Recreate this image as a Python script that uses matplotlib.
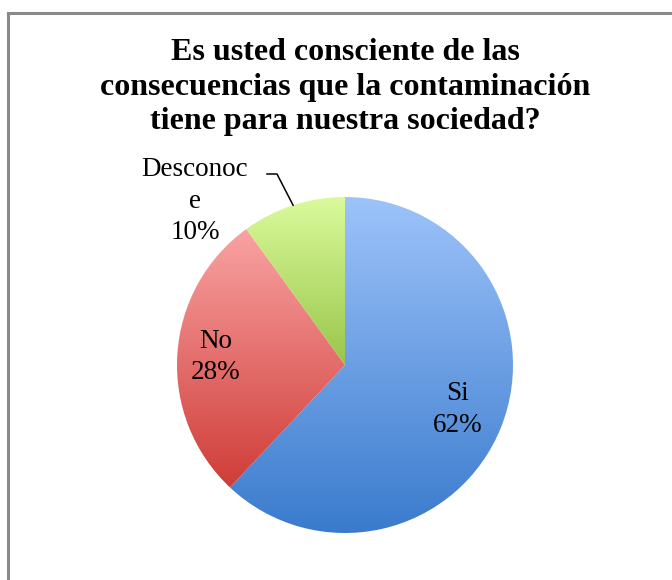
import numpy as np
import matplotlib; matplotlib.use("Agg")
import matplotlib.pyplot as plt
from matplotlib.colors import LinearSegmentedColormap

# ---- data ----
TITLE = "Es usted consciente de las\nconsecuencias que la contaminación\ntiene para nuestra sociedad?"
labels = ["Si", "No", "Desconoce"]
shown = ["Si", "No", "Desconoc\ne"]
values = [62, 28, 10]
# gradient (top, bottom) per slice
tops = ["#9dc3fa", "#f9a3a3", "#dbfa9c"]
bots = ["#3a7bcd", "#cf3d38", "#98c64a"]

W, H, DPI = 672, 580, 100
fig = plt.figure(figsize=(W / DPI, H / DPI), dpi=DPI)
FONT = ["Liberation Serif", "DejaVu Serif"]

# frame (only top/left visible in the crop)
fig.add_artist(plt.Line2D([8 / W, 1], [1 - 13 / H, 1 - 13 / H], color="#8a8a8a", lw=2.2))
fig.add_artist(plt.Line2D([8 / W, 8 / W], [0, 1 - 13 / H], color="#8a8a8a", lw=2.2))

fig.text(345 / W, 1 - 38 / H, TITLE, ha="center", va="top", fontsize=23,
         fontweight="bold", family=FONT, linespacing=1.26)

# pie axes: centre (345,365) px, radius 168 px
R = 168; half = 200
ax = fig.add_axes([(345 - half) / W, (H - 365 - half) / H, 2 * half / W, 2 * half / H])
wedges, _ = ax.pie(values, startangle=90, counterclock=False, radius=1,
                   wedgeprops=dict(linewidth=0))
lim = half / R
ax.set_xlim(-lim, lim); ax.set_ylim(-lim, lim); ax.set_aspect("equal"); ax.axis("off")

for w, t, b in zip(wedges, tops, bots):
    ext = w.get_path().get_extents()
    cmap = LinearSegmentedColormap.from_list("g", [b, t])
    grad = np.linspace(0, 1, 256).reshape(-1, 1)
    im = ax.imshow(grad, cmap=cmap, origin="lower", aspect="auto",
                   extent=[ext.x0, ext.x1, ext.y0, ext.y1], zorder=1)
    im.set_clip_path(w)
    w.set_facecolor("none")
ax.set_xlim(-lim, lim); ax.set_ylim(-lim, lim)

# labels
tot = sum(values)
cum = 0
dist = [0.72, 0.77, None]
for i, (lab, v) in enumerate(zip(shown, values)):
    mid = np.deg2rad(90 - (cum + v / 2) / tot * 360)
    cum += v
    txt = f"{lab}\n{v}%"
    if dist[i] is not None:
        x, y = dist[i] * np.cos(mid), dist[i] * np.sin(mid)
        ax.text(x, y, txt, ha="center", va="center", fontsize=19.5, family=FONT,
                linespacing=1.35, zorder=3)
    else:
        # outside label with leader line
        x, y = -150 / R, 164 / R
        ax.text(x, y, txt, ha="center", va="center", fontsize=19.5, family=FONT,
                linespacing=1.35, zorder=3)
        ex, ey = np.cos(mid), np.sin(mid)
        ax.plot([-78 / R, -68 / R, ex], [191 / R, 191 / R, ey],
                color="black", lw=1.1, zorder=3, clip_on=False)

fig.savefig("out.png", dpi=DPI)
